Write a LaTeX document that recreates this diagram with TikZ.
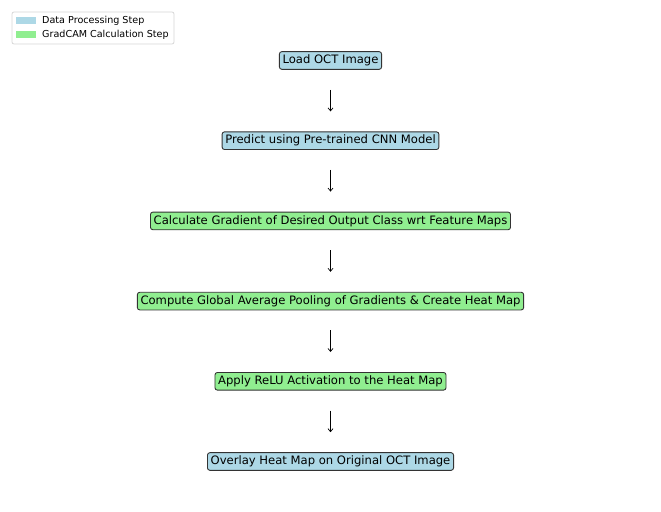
\documentclass[tikz,border=0pt]{standalone}
\usepackage{fontspec}
\setmainfont{DejaVu Sans}
\usepackage{xcolor}
\usetikzlibrary{arrows.meta,positioning}

\definecolor{dataclr}{HTML}{ADD8E6}
\definecolor{gradclr}{HTML}{90EE90}
\definecolor{edgeclr}{HTML}{333333}
\definecolor{frameclr}{HTML}{D6D6D6}

\tikzset{
  stepbox/.style={draw=edgeclr, line width=0.9bp, rounded corners=2.5bp,
    inner xsep=3.2bp, inner ysep=3.2bp, text height=8.8bp, text depth=2.5bp,
    font=\fontsize{11.6bp}{13.5bp}\selectfont},
  datastep/.style={stepbox, fill=dataclr},
  gradstep/.style={stepbox, fill=gradclr},
  keypatch/.style={fill=#1, draw=none},
  keytext/.style={anchor=west, inner sep=0pt, font=\fontsize{9.6bp}{11bp}\selectfont}
}

\begin{document}
\begin{tikzpicture}[x=1bp,y=-1bp,node distance=80.2bp,on grid,
    shorten >=20bp,shorten <=20bp]
   \useasboundingbox (0,0) rectangle (661,512);
   % legend
   \draw[frameclr, line width=0.8bp, rounded corners=2bp, fill=white] (12,12) rectangle (174,44);
   \fill[keypatch=dataclr] (16,17) rectangle (36,24);
   \fill[keypatch=gradclr] (16,31) rectangle (36,38);
   \node[keytext] (datakey) at (42,20.5) {Data Processing Step};
   \node[keytext] (gradkey) at (42,34.5) {GradCAM Calculation Step};
   % steps
   \node[datastep] (load) at (330.5,60.5) {Load OCT Image};
   \node[datastep] (predict) [below=of load] {Predict using Pre-trained CNN Model};
   \node[gradstep] (gradient) [below=of predict] {Calculate Gradient of Desired Output Class wrt Feature Maps};
   \node[gradstep] (pooling) [below=of gradient] {Compute Global Average Pooling of Gradients \& Create Heat Map};
   \node[gradstep] (relu) [below=of pooling] {Apply ReLU Activation to the Heat Map};
   \node[datastep] (overlay) [below=of relu] {Overlay Heat Map on Original OCT Image};
    \path[-{Straight Barb[length=3bp,width=5bp]}, line width=0.7bp]
    (load) edge (predict)
    (predict) edge (gradient)
    (gradient) edge (pooling)
    (pooling) edge (relu)
    (relu) edge (overlay);
\end{tikzpicture}
\end{document}
